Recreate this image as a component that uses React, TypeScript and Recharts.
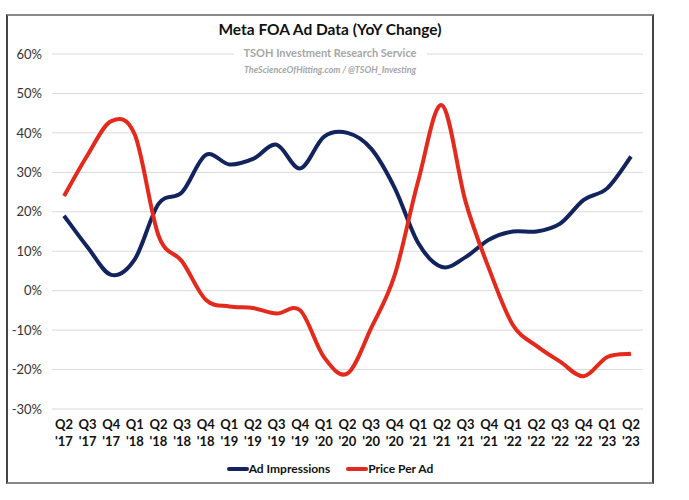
import { LineChart, Line, XAxis, YAxis, CartesianGrid } from 'recharts';

const quarters = ['Q2', 'Q3', 'Q4', 'Q1', 'Q2', 'Q3', 'Q4', 'Q1', 'Q2', 'Q3', 'Q4', 'Q1', 'Q2', 'Q3', 'Q4', 'Q1', 'Q2', 'Q3', 'Q4', 'Q1', 'Q2', 'Q3', 'Q4', 'Q1', 'Q2'];
const years = ["'17", "'17", "'17", "'18", "'18", "'18", "'18", "'19", "'19", "'19", "'19", "'20", "'20", "'20", "'20", "'21", "'21", "'21", "'21", "'22", "'22", "'22", "'22", "'23", "'23"];
const adImpressions = [19, 11, 4, 8, 22, 25, 34.4, 32, 33.4, 37, 31, 39, 40, 36, 26, 12, 6, 8.5, 13, 15, 15, 17, 23, 26, 34];
const pricePerAd = [24, 34.4, 43, 39.5, 14, 7.4, -2.3, -4, -4.4, -5.8, -5, -16.8, -21, -9.5, 4, 28, 47, 22.5, 5.4, -8.7, -14, -18, -21.7, -16.8, -16];
const yTicks = [-30, -20, -10, 0, 10, 20, 30, 40, 50, 60];

const data = quarters.map((q, i) => ({
  label: `${q}|${years[i]}`,
  impressions: adImpressions[i],
  price: pricePerAd[i],
}));

const FONT = 'Lato, "Open Sans", sans-serif';
const BLUE = '#13235e';
const RED = '#e4291d';

// Excel style smoothed line (catmull-rom through the points)
function excelCurve(context: any) {
  let pts: number[][] = [];
  return {
    areaStart() {},
    areaEnd() {},
    lineStart() {
      pts = [];
    },
    point(x: number, y: number) {
      pts.push([+x, +y]);
    },
    lineEnd() {
      if (!pts.length) return;
      context.moveTo(pts[0][0], pts[0][1]);
      for (let i = 0; i < pts.length - 1; i++) {
        const p0 = pts[i - 1] || pts[i];
        const p1 = pts[i];
        const p2 = pts[i + 1];
        const p3 = pts[i + 2] || p2;
        context.bezierCurveTo(
          p1[0] + (p2[0] - p0[0]) / 6,
          p1[1] + (p2[1] - p0[1]) / 6,
          p2[0] - (p3[0] - p1[0]) / 6,
          p2[1] - (p3[1] - p1[1]) / 6,
          p2[0],
          p2[1]
        );
      }
    },
  };
}

function XTick({ x, y, payload }: any) {
  const [q, yr] = String(payload.value).split('|');
  return (
    <text x={x} y={y} textAnchor="middle" fontFamily={FONT} fontSize={13} fontWeight={700} fill="#111">
      <tspan x={x} dy={12}>{q}</tspan>
      <tspan x={x} dy={17}>{yr}</tspan>
    </text>
  );
}

const legendItems = [
  { name: 'Ad Impressions', color: BLUE },
  { name: 'Price Per Ad', color: RED },
];

export default function App() {
  return (
    <div style={{ position: 'absolute', left: 0, top: 0, width: 689, height: 500, background: '#fff' }}>
      <LineChart width={689} height={500} data={data} margin={{ top: 54, right: 46, bottom: 51, left: 0 }}>
        <CartesianGrid vertical={false} stroke="#d9d9d9" strokeWidth={1} />
        <XAxis
          dataKey="label"
          axisLine={false}
          tickLine={false}
          interval={0}
          tick={<XTick />}
          height={40}
          padding={{ left: 12, right: 12 }}
        />
        <YAxis
          domain={[-30, 60]}
          ticks={yTicks}
          axisLine={false}
          tickLine={false}
          tickFormatter={(v) => `${v}%`}
          tick={{ fontFamily: FONT, fontSize: 13, fill: '#333' }}
          tickMargin={4}
          width={52}
        />
        <Line dataKey="impressions" stroke={BLUE} strokeWidth={4} dot={false} type={excelCurve as any} isAnimationActive={false} />
        <Line dataKey="price" stroke={RED} strokeWidth={4} dot={false} type={excelCurve as any} isAnimationActive={false} />
      </LineChart>
      <div style={{ position: 'absolute', left: 6, top: 20, width: 648, textAlign: 'center', fontFamily: FONT, fontWeight: 700, fontSize: 15.5, color: '#111' }}>
        Meta FOA Ad Data (YoY Change)
      </div>
      <div style={{ position: 'absolute', left: 6, top: 46, width: 648, textAlign: 'center', fontFamily: FONT, fontWeight: 700, fontSize: 11, color: '#a6a6a6' }}>
        <span style={{ background: '#fff', padding: '0 10px' }}>TSOH Investment Research Service</span>
      </div>
      <div style={{ position: 'absolute', left: 6, top: 64, width: 648, textAlign: 'center', fontFamily: FONT, fontStyle: 'italic', fontWeight: 700, fontSize: 9, color: '#a6a6a6' }}>
        TheScienceOfHitting.com / @TSOH_Investing
      </div>
      <div style={{ position: 'absolute', left: 6, top: 461, width: 648, display: 'flex', justifyContent: 'center', gap: 16, fontFamily: FONT, fontWeight: 700, fontSize: 12, color: '#111' }}>
        {legendItems.map((it) => (
          <div key={it.name} style={{ display: 'flex', alignItems: 'center' }}>
            <div style={{ width: 22, height: 4, borderRadius: 2, background: it.color }} />
            <span>{it.name}</span>
          </div>
        ))}
      </div>
      <div style={{ position: 'absolute', left: 6, top: 14, width: 648, height: 470, borderLeft: '2px solid #444', borderRight: '2px solid #444', borderTop: '2px solid #888', borderBottom: '2px solid #888', boxSizing: 'border-box', pointerEvents: 'none' }} />
    </div>
  );
}
